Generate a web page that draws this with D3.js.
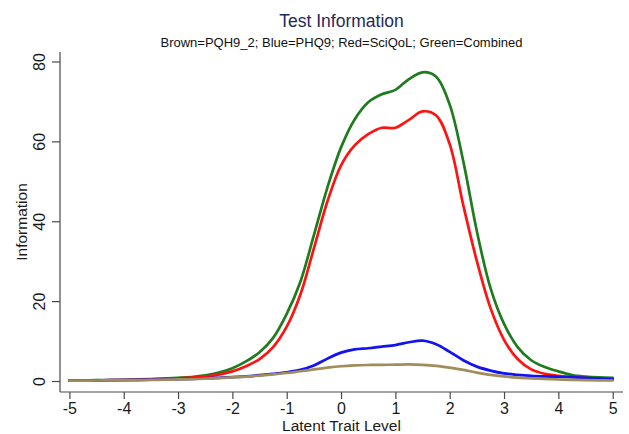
<!DOCTYPE html>
<html>
<head>
<meta charset="utf-8">
<script src="https://cdn.jsdelivr.net/npm/d3@7/dist/d3.min.js"></script>
<style>
  html, body { margin: 0; padding: 0; background: #ffffff; }
  svg { display: block; }
  text { font-family: "Liberation Sans", Arial, sans-serif; }
</style>
</head>
<body>
<svg id="chart" width="629" height="434"></svg>
<script>
// ---- data ----
const theta = [-5,-4.75,-4.5,-4.25,-4,-3.75,-3.5,-3.25,-3,-2.75,-2.5,-2.25,-2,-1.75,-1.5,-1.25,-1,-0.75,-0.5,-0.25,0,0.25,0.5,0.75,1,1.25,1.5,1.75,2,2.25,2.5,2.75,3,3.25,3.5,3.75,4,4.25,4.5,4.75,5];
const combined = [0.1,0.15,0.2,0.25,0.3,0.4,0.5,0.65,0.8,1.0,1.4,2.1,3.2,4.9,7.2,10.8,16.8,24.8,36.5,48.5,58.5,65.5,69.8,71.8,72.9,75.6,77.3,76.2,69.2,55,37.5,23.3,14.3,8.5,5.2,3.5,2.4,1.5,1.1,0.9,0.8];
const sciqol   = [0.1,0.1,0.15,0.2,0.25,0.3,0.4,0.5,0.65,0.85,1.1,1.6,2.4,3.7,5.5,8.5,13.6,21.6,33.2,45,54,59,61.8,63.4,63.4,65.4,67.5,66.5,59.3,44,30,18.3,10.3,5.5,2.9,1.8,1.3,1.0,0.75,0.55,0.45];
const phq9     = [0.1,0.12,0.15,0.2,0.25,0.28,0.32,0.38,0.45,0.55,0.65,0.8,0.95,1.15,1.45,1.8,2.2,2.8,3.9,5.6,7.1,7.9,8.2,8.6,9.0,9.7,10.1,9.2,7.3,5.2,3.6,2.6,1.9,1.55,1.3,1.15,1.05,0.95,0.8,0.6,0.45];
const pqh9_2   = [0.1,0.1,0.12,0.15,0.18,0.22,0.27,0.33,0.4,0.48,0.58,0.72,0.9,1.1,1.35,1.65,2.0,2.45,2.9,3.35,3.7,3.9,4.0,4.05,4.1,4.15,4.05,3.8,3.35,2.8,2.1,1.55,1.15,0.85,0.65,0.5,0.38,0.3,0.22,0.17,0.12];

const xTicks = [-5,-4,-3,-2,-1,0,1,2,3,4,5];
const yTicks = [0,20,40,60,80];

const seriesNames  = ["Combined","SciQoL","PHQ9","PQH9_2"];
const seriesValues = [combined, sciqol, phq9, pqh9_2];
const seriesColors = ["#1e7b1e","#ff1212","#1212f2","#a08c5c"];

const titleText = "Test Information";
const subtitleText = "Brown=PQH9_2; Blue=PHQ9; Red=SciQoL; Green=Combined";
const xTitle = "Latent Trait Level";
const yTitle = "Information";

// ---- layout ----
const svg = d3.select("#chart");
const plotLeft = 60, plotRight = 623, plotTop = 52, plotBottom = 392;

const x = d3.scaleLinear().domain([-5, 5]).range([69.4, 612.7]);
const y = d3.scaleLinear().domain([0, 80]).range([381, 61.5]);

const axisColor = "#4a4a4a";
const labelColor = "#1a1a1a";
const fontFam = '"Liberation Sans", Arial, sans-serif';

// X axis
const gx = svg.append("g").attr("transform", `translate(0,${plotBottom})`)
  .call(d3.axisBottom(x).tickValues(xTicks).tickSize(7).tickPadding(4).tickFormat(d3.format("d")));
gx.select(".domain").remove();
gx.selectAll(".tick line").attr("stroke", axisColor).attr("stroke-width", 1.2);
gx.selectAll(".tick text").attr("fill", labelColor).style("font-size", "16px")
  .style("font-family", fontFam).text(d => d < 0 ? "-" + Math.abs(d) : d);
svg.append("line").attr("x1", plotLeft).attr("x2", plotRight).attr("y1", plotBottom).attr("y2", plotBottom)
  .attr("stroke", axisColor).attr("stroke-width", 1.2);

// Y axis
const gy = svg.append("g").attr("transform", `translate(${plotLeft},0)`)
  .call(d3.axisLeft(y).tickValues(yTicks).tickSize(8).tickFormat(d3.format("d")));
gy.select(".domain").remove();
gy.selectAll(".tick line").attr("stroke", axisColor).attr("stroke-width", 1.2);
gy.selectAll(".tick text").attr("fill", labelColor).style("font-size", "16px")
  .style("font-family", fontFam)
  .attr("x", null).attr("dy", null)
  .attr("text-anchor", "middle")
  .attr("transform", "translate(-15,0) rotate(-90)");
svg.append("line").attr("x1", plotLeft).attr("x2", plotLeft).attr("y1", plotTop).attr("y2", plotBottom)
  .attr("stroke", axisColor).attr("stroke-width", 1.2);

// Lines
const line = d3.line()
  .x((d, i) => x(theta[i]))
  .y(d => y(d))
  .curve(d3.curveCatmullRom.alpha(0.5));

seriesValues.forEach((vals, k) => {
  svg.append("path")
    .datum(vals)
    .attr("fill", "none")
    .attr("stroke", seriesColors[k])
    .attr("stroke-width", 2.7)
    .attr("stroke-linejoin", "round")
    .attr("stroke-linecap", "round")
    .attr("d", line);
});

// Titles
const cx = (plotLeft + plotRight) / 2;
svg.append("text").attr("x", cx).attr("y", 26.5).attr("text-anchor", "middle")
  .attr("fill", "#1f2a5c").style("font-size", "17.5px").text(titleText);
svg.append("text").attr("x", cx).attr("y", 46.5).attr("text-anchor", "middle")
  .attr("fill", "#111").style("font-size", "13px").text(subtitleText);
svg.append("text").attr("x", cx).attr("y", 430.5).attr("text-anchor", "middle")
  .attr("fill", labelColor).style("font-size", "15.5px").text(xTitle);
svg.append("text").attr("transform", `translate(27,${(plotTop + plotBottom) / 2}) rotate(-90)`)
  .attr("text-anchor", "middle")
  .attr("fill", labelColor).style("font-size", "15.5px").text(yTitle);
</script>
</body>
</html>
